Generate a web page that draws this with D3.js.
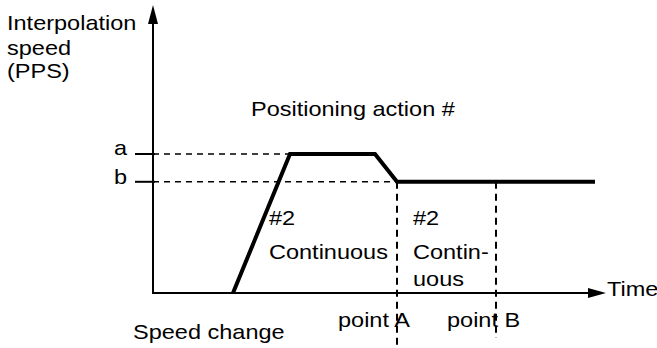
<!DOCTYPE html>
<html><head><meta charset="utf-8">
<script src="https://cdn.jsdelivr.net/npm/d3@7"></script>
<style>body{margin:0;background:#fff}text{font-family:"Liberation Sans",Arial,sans-serif;font-size:21px;fill:#000}</style>
</head><body>
<svg id="c" width="657" height="348"></svg>
<script>
// Data
const speedLevels = {a: 5, b: 4};
const speedTimes = [80, 137, 222, 244, 442];
const speedValues = [0, 5, 5, 4, 4];
const pointTimes = {A: 244, B: 343};
const levelLabels = ["a", "b"];

const svg = d3.select("#c");
const x = d3.scaleLinear().domain([0, 447]).range([153, 600]);
const y = d3.scaleLinear().domain([0, 5]).range([293, 154]);
const T = (tx, ty, s) => svg.append("text")
  .attr("transform", `translate(${tx},${ty}) scale(1.12,1)`).text(s);

// dashed level lines
[["a", speedLevels.a, 137], ["b", speedLevels.b, 244]].forEach(([lab, v, tEnd]) => {
  svg.append("line").attr("x1", 135).attr("x2", x(0)+2).attr("y1", y(v)).attr("y2", y(v))
    .attr("stroke", "#000").attr("stroke-width", 2);
  svg.append("line").attr("x1", x(0)).attr("x2", x(tEnd)).attr("y1", y(v)).attr("y2", y(v))
    .attr("stroke", "#000").attr("stroke-width", 1.6).attr("stroke-dasharray", "6,5");
  T(114, y(v) + (lab === "a" ? 1 : 2), lab);
});

// vertical dashed lines
svg.append("line").attr("x1", x(pointTimes.A)).attr("x2", x(pointTimes.A))
  .attr("y1", y(speedLevels.b)).attr("y2", 348)
  .attr("stroke", "#000").attr("stroke-width", 2).attr("stroke-dasharray", "7,5");
svg.append("line").attr("x1", x(pointTimes.B)).attr("x2", x(pointTimes.B))
  .attr("y1", y(speedLevels.b)).attr("y2", 338)
  .attr("stroke", "#000").attr("stroke-width", 2).attr("stroke-dasharray", "7,5");

// axes
svg.append("line").attr("x1", x(0)).attr("x2", x(0)).attr("y1", y(0)+1).attr("y2", 20)
  .attr("stroke", "#000").attr("stroke-width", 2);
svg.append("path").attr("d", `M${x(0)},5 L${x(0)-5},24 L${x(0)+5},24 Z`).attr("fill", "#000");
svg.append("line").attr("x1", x(0)).attr("x2", 592).attr("y1", y(0)).attr("y2", y(0))
  .attr("stroke", "#000").attr("stroke-width", 2);
svg.append("path").attr("d", `M606,${y(0)} L588,${y(0)-5} L588,${y(0)+5} Z`).attr("fill", "#000");

// speed curve
const line = d3.line().x((d, i) => x(speedTimes[i])).y(d => y(d));
svg.append("path").datum(speedValues).attr("d", line)
  .attr("fill", "none").attr("stroke", "#000").attr("stroke-width", 4).attr("stroke-linejoin", "miter");

// texts
T(7, 30, "Interpolation");
T(7, 55, "speed");
T(7, 78, "(PPS)");
T(251, 116, "Positioning action #");
T(269, 225, "#2");
T(269, 259, "Continuous");
T(413, 225, "#2");
T(413, 259, "Contin-");
T(413, 286, "uous");
T(338, 327, "point A");
T(447, 327, "point B");
T(133, 339, "Speed change");
T(607, 296, "Time");
</script>
</body></html>
